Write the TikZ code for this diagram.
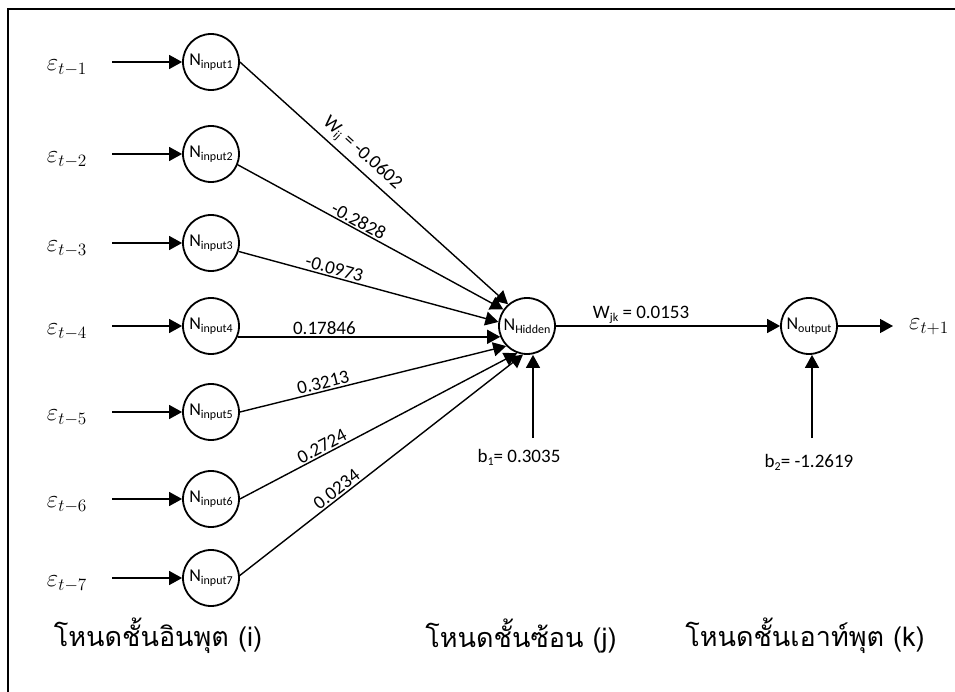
\documentclass[tikz,border=0pt]{standalone}
\usepackage{fontspec}
\setmainfont{Carlito}
\newfontfamily\thaifont[Script=Thai]{Loma}
\usetikzlibrary{arrows.meta}

\newcommand{\nsub}[2]{#1\raisebox{-0.35ex}{\fontsize{12}{12}\selectfont #2}}

\begin{document}
\begin{tikzpicture}[
  x=1pt, y=-1pt,
  >={Triangle[length=13pt,width=14pt]},
  neuron/.style={circle, draw, line width=1.8pt, minimum size=56pt,
    inner sep=0pt, font=\fontsize{18}{20}\selectfont},
  link/.style={draw, line width=1.4pt, ->},
  weight/.style={font=\fontsize{19}{21}\selectfont, sloped, above, inner sep=1.5pt},
  biaslabel/.style={font=\fontsize{19}{21}\selectfont},
  errlabel/.style={font=\fontsize{20.74}{24}\selectfont, scale=1.2},
  layerlabel/.style={font=\thaifont\fontsize{27}{31}\selectfont},
]
  \useasboundingbox (0,0) rectangle (955,692);
  \draw[line width=2.6pt] (8,9) rectangle (975,715);

  % input layer
  \foreach \k/\y in {1/62,2/154,3/243,4/326,5/412,6/499,7/578}{
    \node[neuron] (in\k) at (211,\y) {\nsub{N}{input\k}};
    \coordinate (s\k) at (112,\y);
    \node[errlabel] (e\k) at (67,\y+6) {$\varepsilon_{t-\k}$};
    \draw[link] (s\k) -- (in\k);
  }

  % hidden and output
  \node[neuron] (hid) at (527,326) {\nsub{N}{Hidden}};
  \node[neuron] (out) at (809,326) {\nsub{N}{output}};

  % weights input -> hidden
  \draw[link] (in1.0) -- node[weight, pos=0.42, inner sep=4pt] {\nsub{W}{ij} = -0.0602} (hid.131);
  \draw[link] (in2.-22) -- node[weight, pos=0.44] {-0.2828} (hid.145);
  \draw[link] (in3.-17) -- node[weight, pos=0.36] {-0.0973} (hid.172);
  \draw[link] (in4.-22) -- node[weight, pos=0.33] {0.17846} (hid.-158);
  \draw[link] (in5.0) -- node[weight, pos=0.32] {0.3213} (hid.224);
  \draw[link] (in6.0) -- node[weight, pos=0.31] {0.2724} (hid.250);
  \draw[link] (in7.5) -- node[weight, pos=0.36] {0.0234} (hid.262);

  % hidden -> output
  \draw[link] (hid) -- node[weight, pos=0.38] {\nsub{W}{jk} = 0.0153} (out);
  \coordinate (yend) at (893,326);
  \draw[link] (out) -- (yend);
  \node[errlabel] (eout) at (929,327) {$\varepsilon_{t+1}$};

  % biases
  \node[biaslabel] (b1) at (519,457) {\nsub{b}{1}= 0.3035};
  \coordinate (b1s) at (533,438);
  \draw[link] (b1s) -- (b1s |- hid.south);
  \node[biaslabel] (b2) at (809,462) {\nsub{b}{2}= -1.2619};
  \coordinate (b2s) at (812,438);
  \draw[link] (b2s) -- (b2s |- out.south);

  % layer names
  \node[layerlabel] (linput) at (158,636) {โหนดชั้นอินพุต (i)};
  \node[layerlabel] (lhidden) at (521,636) {โหนดชั้นซ้อน (j)};
  \node[layerlabel] (loutput) at (805,636) {โหนดชั้นเอาท์พุต (k)};
\end{tikzpicture}
\end{document}
